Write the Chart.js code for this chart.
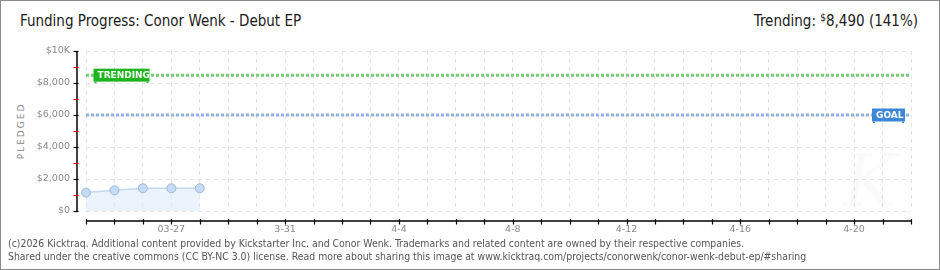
<!DOCTYPE html>
<html lang="en">
<head>
    <meta charset="UTF-8">
    <title>Funding Progress: Conor Wenk - Debut EP</title>
    <script src="https://cdn.jsdelivr.net/npm/chart.js"></script>
    <style>
        html, body { margin: 0; padding: 0; background: #fff; }
        .frame {
            position: relative;
            width: 938px;
            height: 268px;
            border: 1px solid #8a8a8a;
            overflow: hidden;
            font-family: "DejaVu Sans Condensed", "DejaVu Sans", sans-serif;
        }
        .title {
            position: absolute; left: 19px; top: 11px;
            font-size: 15px; color: #1a1a1a;
        }
        .trending {
            position: absolute; right: 21px; top: 11px;
            font-size: 15px; color: #1a1a1a;
        }
        .trending sup { font-size: 10px; vertical-align: 5px; }
        .ylabel {
            position: absolute; left: 20px; top: 130px;
            transform: translate(-50%, -50%) rotate(-90deg);
            font-size: 9px; letter-spacing: 2px; color: #888;
            font-family: "DejaVu Sans", sans-serif;
        }
        .footer {
            position: absolute; left: 7px; top: 236px;
            font-size: 10.4px; line-height: 13px; color: #555;
        }
        canvas { position: absolute; left: 0; top: 0; }
    </style>
</head>
<body>
<div class="frame">
    <div class="title">Funding Progress: Conor Wenk - Debut EP</div>
    <div class="trending">Trending: <sup>$</sup>8,490 (141%)</div>
    <div class="ylabel">PLEDGED</div>
    <canvas id="chart" width="938" height="240"></canvas>
    <div class="footer">(c)2026 Kicktraq. Additional content provided by Kickstarter Inc. and Conor Wenk. Trademarks and related content are owned by their respective companies.<br>Shared under the creative commons (CC BY-NC 3.0) license. Read more about sharing this image at www.kicktraq.com/projects/conorwenk/conor-wenk-debut-ep/#sharing</div>
</div>
<script>
    // days on the x axis (03-24 .. 04-22)
    const days = ['3-24','3-25','3-26','3-27','3-28','3-29','3-30','3-31','4-1','4-2','4-3','4-4','4-5','4-6','4-7',
                  '4-8','4-9','4-10','4-11','4-12','4-13','4-14','4-15','4-16','4-17','4-18','4-19','4-20','4-21','4-22'];
    const tickLabels = ['','','','03-27','','','','3-31','','','','4-4','','','',
                        '4-8','','','','4-12','','','','4-16','','','','4-20','',''];
    const pledged = [1150, 1290, 1420, 1420, 1420];
    const yTicks = [0, 2000, 4000, 6000, 8000, 10000];
    const yTickLabels = ['$0', '$2,000', '$4,000', '$6,000', '$8,000', '$10K'];
    const goal = 6000;
    const trending = 8490;

    const tickFont = { family: 'DejaVu Sans', size: 9.5 };

    // target lines, labels and detached axes
    const extras = {
        id: 'extras',
        beforeDatasetsDraw(chart) {
            const { ctx, chartArea: a, scales: { x, y } } = chart;
            ctx.save();
            // watermark
            ctx.fillStyle = 'rgba(0,0,0,0.018)';
            ctx.font = 'italic 72px "DejaVu Serif", serif';
            ctx.fillText('K', 842, 205);
            const lines = [[trending, '#77cc77'], [goal, '#90b4e0']];
            lines.forEach(([v, c]) => {
                const py = y.getPixelForValue(v);
                ctx.strokeStyle = c;
                ctx.lineWidth = 3;
                ctx.setLineDash([3, 2]);
                ctx.beginPath();
                ctx.moveTo(a.left, py);
                ctx.lineTo(a.right, py);
                ctx.stroke();
            });
            ctx.restore();
        },
        afterDatasetsDraw(chart) {
            const { ctx, chartArea: a, scales: { x, y } } = chart;
            ctx.save();
            const tag = (text, left, v, w, color) => {
                const py = y.getPixelForValue(v);
                ctx.fillStyle = color;
                ctx.fillRect(left, py - 6.5, w, 13);
                ctx.fillRect(left + 1, py + 6.5, 2, 1.5);
                ctx.fillRect(left + w - 3, py + 6.5, 2, 1.5);
                ctx.fillStyle = '#fff';
                ctx.font = 'bold 9px "DejaVu Sans"';
                ctx.textBaseline = 'middle';
                ctx.fillText(text, left + 4, py + 0.5);
            };
            tag('TRENDING', x.getPixelForValue(0) + 7.5, trending, 56, '#1fb51f');
            tag('GOAL', a.right - 39, goal, 33, '#3d87d6');

            // y axis
            const ax = a.left - 9;
            ctx.strokeStyle = '#000';
            ctx.lineWidth = 1.5;
            ctx.beginPath();
            ctx.moveTo(ax, a.top);
            ctx.lineTo(ax, a.bottom);
            ctx.stroke();
            for (let v = 0; v <= 10000; v += 1000) {
                const py = Math.round(y.getPixelForValue(v)) + 0.5;
                ctx.strokeStyle = v % 2000 === 0 ? '#000' : '#e00';
                ctx.lineWidth = 1.2;
                ctx.beginPath();
                ctx.moveTo(ax - 3.5, py);
                ctx.lineTo(ax + 1.5, py);
                ctx.stroke();
            }
            // x axis
            const ay = a.bottom + 10;
            ctx.strokeStyle = '#000';
            ctx.lineWidth = 1.5;
            ctx.beginPath();
            ctx.moveTo(a.left, ay);
            ctx.lineTo(a.right, ay);
            ctx.stroke();
            ctx.lineWidth = 1.2;
            days.forEach((d, i) => {
                const px = Math.round(x.getPixelForValue(i)) + 0.5;
                ctx.beginPath();
                ctx.moveTo(px, ay - 2);
                ctx.lineTo(px, ay + 3.5);
                ctx.stroke();
            });
            ctx.restore();
        }
    };

    new Chart(document.getElementById('chart'), {
        type: 'line',
        data: {
            labels: days,
            datasets: [{
                data: pledged,
                fill: 'origin',
                backgroundColor: 'rgba(222,235,251,0.6)',
                borderColor: '#c0d8f2',
                borderWidth: 1.5,
                pointRadius: 4.5,
                pointBackgroundColor: '#c4dcf6',
                pointBorderColor: '#9db6d4',
                pointBorderWidth: 1,
                tension: 0
            }]
        },
        options: {
            responsive: false,
            animation: false,
            layout: { padding: { left: 0, top: 50, right: 28, bottom: 0 } },
            plugins: { legend: { display: false }, tooltip: { enabled: false } },
            scales: {
                x: {
                    offset: false,
                    afterFit: s => { s.height = 30; },
                    border: { display: false, dash: [4, 4] },
                    grid: { color: '#e2e2e2', drawTicks: false },
                    ticks: {
                        autoSkip: false, maxRotation: 0, padding: 13,
                        color: '#8a8a8a', font: tickFont,
                        callback: (v, i) => tickLabels[i]
                    }
                },
                y: {
                    min: 0, max: 10000,
                    afterFit: s => { s.width = 85; },
                    afterBuildTicks: s => { s.ticks = yTicks.map(v => ({ value: v })); },
                    border: { display: false, dash: [4, 4] },
                    grid: { color: '#e2e2e2', drawTicks: false },
                    ticks: {
                        padding: 16, color: '#8a8a8a', font: tickFont,
                        callback: v => yTickLabels[yTicks.indexOf(v)]
                    }
                }
            }
        },
        plugins: [extras]
    });
</script>
</body>
</html>
